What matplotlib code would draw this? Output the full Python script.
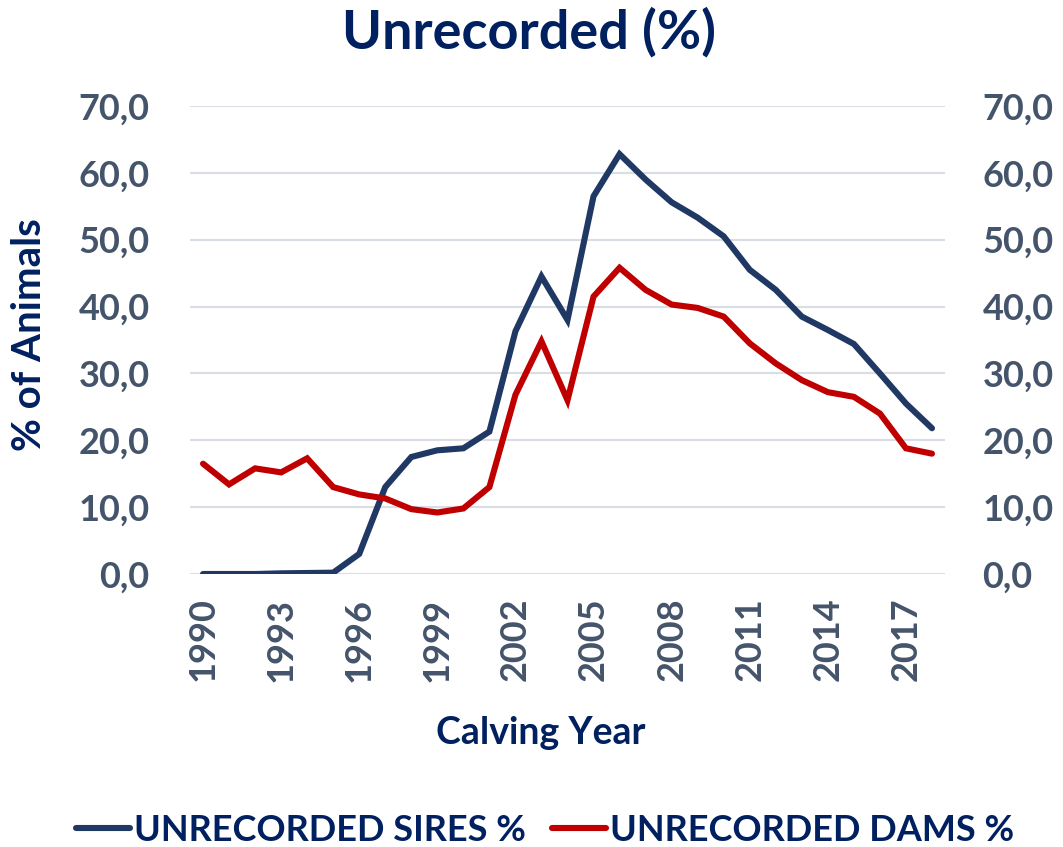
import matplotlib
matplotlib.use("Agg")
import matplotlib.pyplot as plt
from matplotlib.ticker import FuncFormatter, MultipleLocator

years = list(range(1990, 2019))
sires = [0.0, 0.0, 0.0, 0.1, 0.15, 0.2, 3.0, 13.0, 17.5, 18.5, 18.8, 21.3, 36.3, 44.5, 38.0,
         56.5, 62.8, 59.0, 55.6, 53.3, 50.5, 45.5, 42.5, 38.5, 36.5, 34.4, 30.0, 25.5, 21.8]
dams = [16.5, 13.4, 15.8, 15.2, 17.3, 13.0, 11.9, 11.3, 9.7, 9.2, 9.8, 13.0, 26.8, 34.8, 26.0,
        41.5, 45.8, 42.5, 40.3, 39.8, 38.5, 34.5, 31.5, 29.0, 27.2, 26.5, 24.0, 18.8, 18.0]
series_names = ["UNRECORDED SIRES %", "UNRECORDED DAMS %"]
xtick_years = list(range(1990, 2019, 3))

FONT = "Lato"
NAVY = "#002060"
TICK = "#44546A"
plt.rcParams['font.family'] = [FONT, 'DejaVu Sans']

fig = plt.figure(figsize=(10.63, 8.47), dpi=100)
ax = fig.add_axes([190/1063, 1-574/847, (945-190)/1063, (574-106)/847])

ax.plot(years, sires, color="#203864", lw=4.4, solid_capstyle="round", solid_joinstyle="miter",
        label=series_names[0], zorder=3)
ax.plot(years, dams, color="#C00000", lw=4.4, solid_capstyle="round", solid_joinstyle="miter",
        label=series_names[1], zorder=3)

ax.set_xlim(1989.5, 2018.5)
ax.set_ylim(0, 70)
ax.yaxis.set_major_locator(MultipleLocator(10))
fmt = FuncFormatter(lambda v, p: f"{v:.1f}".replace(".", ","))
ax.yaxis.set_major_formatter(fmt)
ax.set_xticks(xtick_years)
ax.set_xticklabels([str(y) for y in xtick_years], rotation=90)
ax.grid(axis="y", color="#D9DEE4", lw=1.5, zorder=0)
ax.set_axisbelow(True)
for s in ax.spines.values():
    s.set_visible(False)
ax.tick_params(axis="both", length=0, labelsize=26, labelcolor=TICK)
ax.tick_params(axis="y", pad=29)
ax.tick_params(axis="x", pad=17)
for lab in ax.get_xticklabels() + ax.get_yticklabels():
    lab.set_fontweight("bold")

ax2 = ax.twinx()
ax2.set_ylim(0, 70)
ax2.yaxis.set_major_locator(MultipleLocator(10))
ax2.yaxis.set_major_formatter(fmt)
for s in ax2.spines.values():
    s.set_visible(False)
ax2.tick_params(axis="y", length=0, labelsize=26, labelcolor=TICK, pad=27)
for lab in ax2.get_yticklabels():
    lab.set_fontweight("bold")

fig.text(529/1063, 1-32/847, "Unrecorded (%)", ha="center", va="center",
         fontsize=39, fontweight="bold", color=NAVY)
fig.text(541/1063, 1-733/847, "Calving Year", ha="center", va="center",
         fontsize=27, fontweight="bold", color=NAVY)
fig.text(30/1063, 1-335/847, "% of Animals", ha="center", va="center", rotation=90,
         fontsize=29, fontweight="bold", color=NAVY)

leg = fig.legend(loc="center", bbox_to_anchor=(545/1063, 1-830/847), ncol=2, frameon=False,
                 fontsize=26, handlelength=1.5, handletextpad=0.12, columnspacing=0.7)
for t in leg.get_texts():
    t.set_color(NAVY)
    t.set_fontweight("bold")

fig.savefig("out.png", dpi=100)
